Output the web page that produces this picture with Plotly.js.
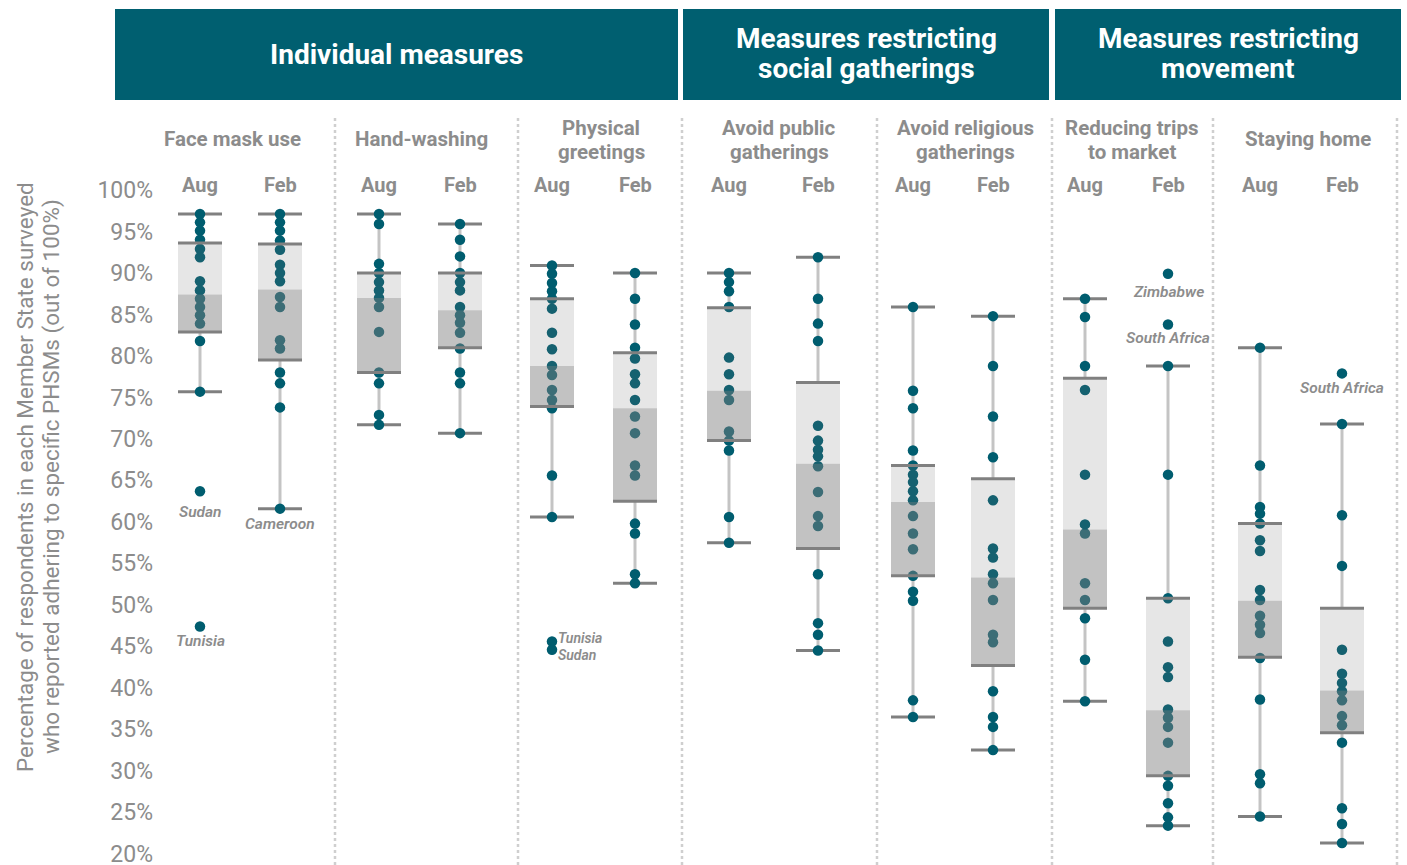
<!DOCTYPE html>
<html>
<head>
<meta charset="utf-8">
<script src="https://cdn.plot.ly/plotly-3.0.1.min.js"></script>
<style>
  html, body { margin: 0; padding: 0; background: #fff; }
  #chart { width: 1407px; height: 865px; }
</style>
</head>
<body>
<div id="chart"></div>
<script>
/* ---- Data ---- */
const CATEGORIES = [
  'Face mask use', 'Hand-washing', 'Physical<br>greetings', 'Avoid public<br>gatherings',
  'Avoid religious<br>gatherings', 'Reducing trips<br>to market', 'Staying home',
];
const PERIODS = ['Aug', 'Feb'];
const GROUPS = ['Individual measures', 'Measures restricting<br>social gatherings', 'Measures restricting<br>movement'];
const Y_TITLE = ['Percentage of respondents in each Member State surveyed', 'who reported adhering to specific PHSMs (out of 100%)'];

const AUG_POINTS = [
  [97.1, 96.1, 95.1, 94.0, 92.9, 91.9, 89.0, 87.9, 86.9, 85.9, 84.9, 83.9, 81.8, 75.7, 63.7, 47.4],
  [97.1, 95.9, 91.1, 90.0, 88.9, 87.9, 87.0, 85.9, 82.9, 78.0, 76.7, 72.9, 71.7],
  [90.9, 89.9, 88.8, 87.8, 86.9, 85.7, 82.8, 80.8, 78.8, 77.7, 75.9, 74.7, 73.7, 65.6, 60.6, 45.6, 44.6],
  [90.0, 88.9, 87.8, 85.9, 79.8, 77.8, 75.9, 74.7, 70.9, 69.8, 68.6, 60.6, 57.5],
  [85.9, 75.8, 73.7, 68.6, 66.8, 65.7, 64.8, 63.7, 62.6, 60.7, 58.6, 56.7, 53.5, 51.6, 50.5, 38.5, 36.5],
  [86.9, 84.7, 78.8, 75.9, 65.7, 59.7, 58.6, 52.6, 50.6, 48.4, 43.4, 38.4],
  [81.0, 66.8, 61.8, 61.0, 59.8, 57.8, 56.5, 51.8, 50.6, 48.7, 47.6, 46.6, 43.6, 38.6, 29.6, 28.5, 24.5],
];
const FEB_POINTS = [
  [97.1, 96.1, 95.1, 93.9, 92.8, 91.0, 90.0, 89.0, 87.1, 85.9, 81.9, 80.9, 78.0, 76.7, 73.8, 61.6],
  [95.9, 94.0, 92.0, 90.0, 88.9, 87.9, 85.9, 84.9, 84.0, 82.8, 80.9, 78.0, 76.7, 70.7],
  [90.0, 86.9, 83.8, 81.0, 79.7, 77.8, 76.7, 74.7, 72.7, 70.7, 66.8, 65.6, 59.8, 58.6, 53.7, 52.6],
  [91.9, 86.9, 83.9, 81.8, 71.6, 69.8, 68.7, 67.9, 66.7, 63.6, 60.7, 59.5, 53.7, 47.8, 46.4, 44.5],
  [84.8, 78.8, 72.7, 67.8, 62.6, 56.8, 55.7, 53.7, 52.6, 50.6, 46.4, 45.5, 39.6, 36.5, 35.3, 32.5],
  [89.9, 83.8, 78.8, 65.7, 50.8, 45.6, 42.5, 41.3, 37.4, 36.4, 35.3, 33.4, 29.4, 28.2, 26.1, 24.4, 23.4],
  [77.9, 71.8, 60.8, 54.7, 44.6, 41.7, 40.6, 39.6, 38.5, 36.6, 35.5, 33.4, 25.5, 23.6, 21.3],
];

// box stats: whisker low, Q1, median, Q3, whisker high
const AUG_LO  = [75.7, 71.7, 60.6, 57.5, 36.5, 38.4, 24.5];
const AUG_Q1  = [82.9, 78.0, 73.9, 69.8, 53.5, 49.6, 43.7];
const AUG_MED = [87.4, 87.0, 78.8, 75.8, 62.4, 59.1, 50.5];
const AUG_Q3  = [93.6, 90.0, 86.9, 85.8, 66.8, 77.3, 59.8];
const AUG_HI  = [97.1, 97.1, 90.9, 90.0, 85.9, 86.9, 81.0];

const FEB_LO  = [61.6, 70.7, 52.6, 44.5, 32.5, 23.4, 21.3];
const FEB_Q1  = [79.5, 81.0, 62.5, 56.8, 42.7, 29.4, 34.6];
const FEB_MED = [88.0, 85.5, 73.7, 67.0, 53.3, 37.3, 39.7];
const FEB_Q3  = [93.5, 90.0, 80.4, 76.8, 65.2, 50.8, 49.6];
const FEB_HI  = [97.1, 95.9, 90.0, 91.9, 84.8, 78.8, 71.8];

// labelled outliers
const LABEL_TEXT   = ['Sudan', 'Tunisia', 'Cameroon', 'Tunisia', 'Sudan', 'Zimbabwe', 'South Africa', 'South Africa'];
const LABEL_CAT    = [0, 0, 0, 2, 2, 5, 5, 6];
const LABEL_PERIOD = ['Aug', 'Aug', 'Feb', 'Aug', 'Aug', 'Feb', 'Feb', 'Feb'];
const LABEL_VALUE  = [63.7, 47.4, 61.6, 45.6, 44.6, 89.9, 83.8, 77.9];

/* ---- Layout geometry (pixels) ---- */
const W = 1407, H = 865;
const PLOT_L = 154, PLOT_R = 1402, PLOT_T = 190, PLOT_B = 858;
const Y_RANGE = [19.5, 100];
const AUG_X = [200, 379, 552, 729, 913, 1085, 1260];
const FEB_X = [280, 460, 635, 818, 993, 1168, 1342];
const TITLE_X = [232, 421, 601, 779, 965, 1132, 1308];
const SEP_X = [335, 518, 682, 877, 1052, 1213, 1397];
const BAND_X = [[115, 678], [683, 1049], [1055, 1401]];
const BOX_HALF = 22;

const LABEL_DX = [0, 0, 0, 4, 4, 0, 0, 0];
const LABEL_DY = [21, 15, 15, -3, 5, 18, 14, 15];
const LABEL_SIDE = ['below', 'below', 'below', 'right', 'right', 'below', 'below', 'below'];

/* ---- Colors ---- */
const TEAL = '#005d6f';
const GREY_TXT = '#8c8c8c';
const WHISKER = '#c4c4c4';
const EDGE = '#808080';
const BOX_LIGHT = 'rgba(118,118,118,0.18)';
const BOX_DARK = 'rgba(126,126,126,0.475)';
const FONT = 'Roboto, Arial, sans-serif';

const px2x = px => (px - PLOT_L) / (PLOT_R - PLOT_L);
const py2y = py => (PLOT_B - py) / (PLOT_B - PLOT_T);

// one entry per box
const groups = [];
CATEGORIES.forEach((c, i) => {
  groups.push({ x: AUG_X[i], pts: AUG_POINTS[i], lo: AUG_LO[i], q1: AUG_Q1[i], med: AUG_MED[i], q3: AUG_Q3[i], hi: AUG_HI[i] });
  groups.push({ x: FEB_X[i], pts: FEB_POINTS[i], lo: FEB_LO[i], q1: FEB_Q1[i], med: FEB_MED[i], q3: FEB_Q3[i], hi: FEB_HI[i] });
});

const base = { type: 'scatter', hoverinfo: 'skip', showlegend: false, cliponaxis: false };

const whiskers = {
  ...base, mode: 'lines',
  x: groups.flatMap(g => [g.x, g.x, null, g.x, g.x, null]),
  y: groups.flatMap(g => [g.q3, g.hi, null, g.lo, g.q1, null]),
  line: { color: WHISKER, width: 3 },
};

const caps = {
  ...base, mode: 'lines',
  x: groups.flatMap(g => [g.x - BOX_HALF, g.x + BOX_HALF, null, g.x - BOX_HALF, g.x + BOX_HALF, null]),
  y: groups.flatMap(g => [g.hi, g.hi, null, g.lo, g.lo, null]),
  line: { color: EDGE, width: 3 },
};

const points = {
  ...base, mode: 'markers',
  x: groups.flatMap(g => g.pts.map(() => g.x)),
  y: groups.flatMap(g => g.pts),
  marker: { color: TEAL, size: 10.5 },
};

function boxTrace(lowKey, highKey, color) {
  return {
    ...base, mode: 'lines', fill: 'toself', fillcolor: color,
    x: groups.flatMap(g => [g.x - BOX_HALF, g.x + BOX_HALF, g.x + BOX_HALF, g.x - BOX_HALF, g.x - BOX_HALF, null]),
    y: groups.flatMap(g => [g[lowKey], g[lowKey], g[highKey], g[highKey], g[lowKey], null]),
    line: { width: 0 },
  };
}

const edges = {
  ...base, mode: 'lines',
  x: groups.flatMap(g => [g.x - BOX_HALF, g.x + BOX_HALF, null, g.x - BOX_HALF, g.x + BOX_HALF, null]),
  y: groups.flatMap(g => [g.q3, g.q3, null, g.q1, g.q1, null]),
  line: { color: EDGE, width: 3 },
};

const traces = [whiskers, caps, points, boxTrace('med', 'q3', BOX_LIGHT), boxTrace('q1', 'med', BOX_DARK), edges];

/* ---- Decorations ---- */
const shapes = [];
const annotations = [];

const textAt = (px, py, text, font, extra) => annotations.push({
  xref: 'paper', yref: 'paper', x: px2x(px), y: py2y(py),
  text, showarrow: false, xanchor: 'center', yanchor: 'middle', font, ...extra,
});

BAND_X.forEach(([x0, x1], i) => {
  shapes.push({
    type: 'rect', xref: 'paper', yref: 'paper', layer: 'below',
    x0: px2x(x0), x1: px2x(x1), y0: py2y(100), y1: py2y(9),
    fillcolor: '#005f70', line: { width: 0 },
  });
  const lines = GROUPS[i].split('<br>');
  const headFont = { family: FONT, size: 28, color: '#fff', weight: 'bold' };
  if (lines.length === 1) textAt((x0 + x1) / 2, 55, lines[0], headFont);
  else lines.forEach((ln, j) => textAt((x0 + x1) / 2, 39 + j * 30, ln, headFont));
});

SEP_X.forEach(x => {
  shapes.push({
    type: 'line', xref: 'paper', yref: 'paper', layer: 'below',
    x0: px2x(x), x1: px2x(x), y0: py2y(865), y1: py2y(117),
    line: { color: '#cfcfcf', width: 2.5, dash: 'dot' },
  });
});

CATEGORIES.forEach((c, i) => {
  const lines = c.split('<br>');
  const catFont = { family: FONT, size: 20.5, color: GREY_TXT, weight: 'bold' };
  if (lines.length === 1) textAt(TITLE_X[i], 139, lines[0], catFont);
  else lines.forEach((ln, j) => textAt(TITLE_X[i], 128 + j * 24, ln, catFont));
  [AUG_X[i], FEB_X[i]].forEach((x, j) => {
    textAt(x, 185, PERIODS[j], { family: FONT, size: 20, color: GREY_TXT, weight: 'bold' });
  });
});

LABEL_TEXT.forEach((t, k) => {
  const cx = LABEL_PERIOD[k] === 'Aug' ? AUG_X[LABEL_CAT[k]] : FEB_X[LABEL_CAT[k]];
  const right = LABEL_SIDE[k] === 'right';
  annotations.push({
    xref: 'x', yref: 'y', x: cx, y: LABEL_VALUE[k],
    text: t, showarrow: false,
    xanchor: right ? 'left' : 'center', yanchor: 'middle',
    xshift: LABEL_DX[k], yshift: -LABEL_DY[k],
    font: { family: FONT, size: right ? 14 : 15.5, color: GREY_TXT, style: 'italic', weight: 600 },
  });
});

Y_TITLE.forEach((ln, j) => {
  textAt(25 + j * 26, 477, ln, { family: FONT, size: 22.5, color: GREY_TXT }, { textangle: -90 });
});

const layout = {
  width: W, height: H,
  margin: { l: PLOT_L, r: W - PLOT_R, t: PLOT_T, b: H - PLOT_B },
  paper_bgcolor: '#fff', plot_bgcolor: '#fff',
  font: { family: FONT, color: GREY_TXT },
  showlegend: false,
  xaxis: { range: [PLOT_L, PLOT_R], visible: false, fixedrange: true },
  yaxis: {
    range: Y_RANGE, tick0: 20, dtick: 5, ticksuffix: '%', showgrid: false, zeroline: false, showline: false,
    ticks: '', ticklabeloverflow: 'allow', tickfont: { family: FONT, size: 23, color: GREY_TXT }, fixedrange: true,
  },
  shapes, annotations,
};

Plotly.newPlot('chart', traces, layout, { displayModeBar: false, staticPlot: true });
</script>
</body>
</html>
